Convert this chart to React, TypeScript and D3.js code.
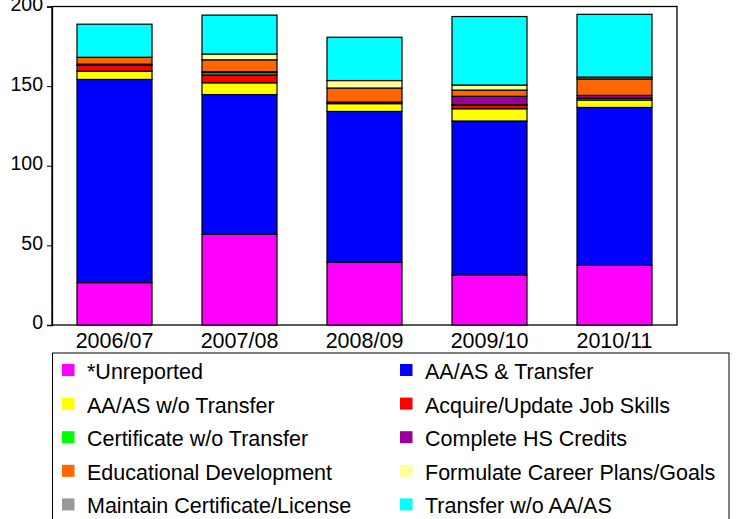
import React, { useRef, useEffect } from 'react';
import * as d3 from 'd3';

const years = ['2006/07', '2007/08', '2008/09', '2009/10', '2010/11'];

const goalNames = [
  '*Unreported',
  'AA/AS & Transfer',
  'AA/AS w/o Transfer',
  'Acquire/Update Job Skills',
  'Certificate w/o Transfer',
  'Complete HS Credits',
  'Educational Development',
  'Formulate Career Plans/Goals',
  'Maintain Certificate/License',
  'Transfer w/o AA/AS',
];

const goalColors = [
  '#ff00ff', '#0000ff', '#ffff00', '#ff0000', '#00ff00',
  '#990099', '#ff6600', '#ffff99', '#999999', '#00ffff',
];

// one array per goal, values per year
const unreported = [26.6, 56.9, 39.4, 31.4, 37.5];
const aaTransfer = [127.6, 87.8, 94.7, 96.7, 99.1];
const aaNoTransfer = [5.2, 7.4, 4.9, 7.7, 4.7];
const jobSkills = [3.6, 4.9, 1.0, 2.2, 0];
const certNoTransfer = [0, 1.5, 0, 0.3, 1.2];
const hsCredits = [0.8, 0.6, 0, 5.3, 1.7];
const eduDevelopment = [4.3, 7.4, 8.8, 3.9, 10.3];
const careerPlans = [0, 3.7, 4.7, 3.2, 0];
const maintainCert = [0, 0, 0, 0, 1.2];
const transferNoAA = [20.8, 24.4, 27.2, 43.0, 39.4];

const yTicks = [0, 50, 100, 150, 200];

const seriesValues = [
  unreported, aaTransfer, aaNoTransfer, jobSkills, certNoTransfer,
  hsCredits, eduDevelopment, careerPlans, maintainCert, transferNoAA,
];

const FONT = "Arial, 'Liberation Sans', sans-serif";

const StackedBars: React.FC<{ width: number; height: number }> = ({ width, height }) => {
  const svgRef = useRef<SVGSVGElement | null>(null);

  useEffect(() => {
    if (!svgRef.current) return;
    const svg = d3.select(svgRef.current);
    svg.selectAll('*').remove();

    const plot = { left: 52, right: 677, top: 6.5, bottom: 325 };

    const rows = years.map((year, i) => {
      const row: Record<string, any> = { year };
      goalNames.forEach((g, k) => { row[g] = seriesValues[k][i]; });
      return row;
    });

    const stacked = d3.stack<any>().keys(goalNames)(rows);

    const x = d3.scaleBand<string>()
      .domain(years)
      .range([plot.left, plot.right])
      .paddingInner(0.4)
      .paddingOuter(0.2);

    const y = d3.scaleLinear()
      .domain([0, 200])
      .range([plot.bottom, plot.top]);

    const color = d3.scaleOrdinal<string, string>().domain(goalNames).range(goalColors);

    // plot frame
    svg.append('rect')
      .attr('x', plot.left)
      .attr('y', plot.top)
      .attr('width', plot.right - plot.left)
      .attr('height', plot.bottom - plot.top)
      .attr('fill', 'none')
      .attr('stroke', '#000')
      .attr('stroke-width', 1.3);

    // bars
    svg.append('g')
      .selectAll('g')
      .data(stacked)
      .join('g')
      .attr('fill', d => color(d.key))
      .selectAll('rect')
      .data(d => d.filter(s => s[1] - s[0] > 0))
      .join('rect')
      .attr('x', d => x(d.data.year) as number)
      .attr('y', d => y(d[1]))
      .attr('width', x.bandwidth())
      .attr('height', d => y(d[0]) - y(d[1]))
      .attr('stroke', '#000')
      .attr('stroke-width', 1.2);

    // y axis
    const yAxis = svg.append('g')
      .attr('transform', `translate(${plot.left},0)`)
      .call(d3.axisLeft(y).tickValues(yTicks).tickSize(5).tickPadding(4).tickFormat(d3.format('d')));
    yAxis.select('.domain').attr('stroke', '#000').attr('stroke-width', 1.3);
    yAxis.selectAll('.tick line').attr('stroke', '#000');
    yAxis.selectAll('.tick text')
      .attr('font-family', FONT)
      .attr('font-size', 19.5)
      .attr('fill', '#000')
      .attr('dy', '0.2em');

    // x labels
    svg.append('g')
      .selectAll('text')
      .data(years)
      .join('text')
      .attr('x', d => (x(d) as number) + x.bandwidth() / 2)
      .attr('y', 348)
      .attr('text-anchor', 'middle')
      .attr('font-family', FONT)
      .attr('font-size', 21.5)
      .text(d => d);

    // legend
    const legend = svg.append('g');
    legend.append('rect')
      .attr('x', 52.5)
      .attr('y', 353)
      .attr('width', 676.5)
      .attr('height', 180)
      .attr('fill', '#fff')
      .attr('stroke', '#000')
      .attr('stroke-width', 1);

    const item = legend.selectAll('g.item')
      .data(goalNames)
      .join('g')
      .attr('class', 'item')
      .attr('transform', (_, i) => `translate(${i % 2 === 0 ? 62 : 400},${364 + Math.floor(i / 2) * 33.6})`);

    item.append('rect')
      .attr('width', 12.5)
      .attr('height', 12)
      .attr('fill', d => color(d));

    item.append('text')
      .attr('x', 25)
      .attr('y', 15)
      .attr('font-family', FONT)
      .attr('font-size', 21.5)
      .attr('fill', '#000')
      .text(d => d);
  }, [width, height]);

  return <svg ref={svgRef} width={width} height={height} />;
};

export default function App() {
  return (
    <div style={{ position: 'absolute', left: 0, top: 0, width: 737, height: 519, overflow: 'hidden', background: '#fff' }}>
      <StackedBars width={737} height={519} />
    </div>
  );
}
